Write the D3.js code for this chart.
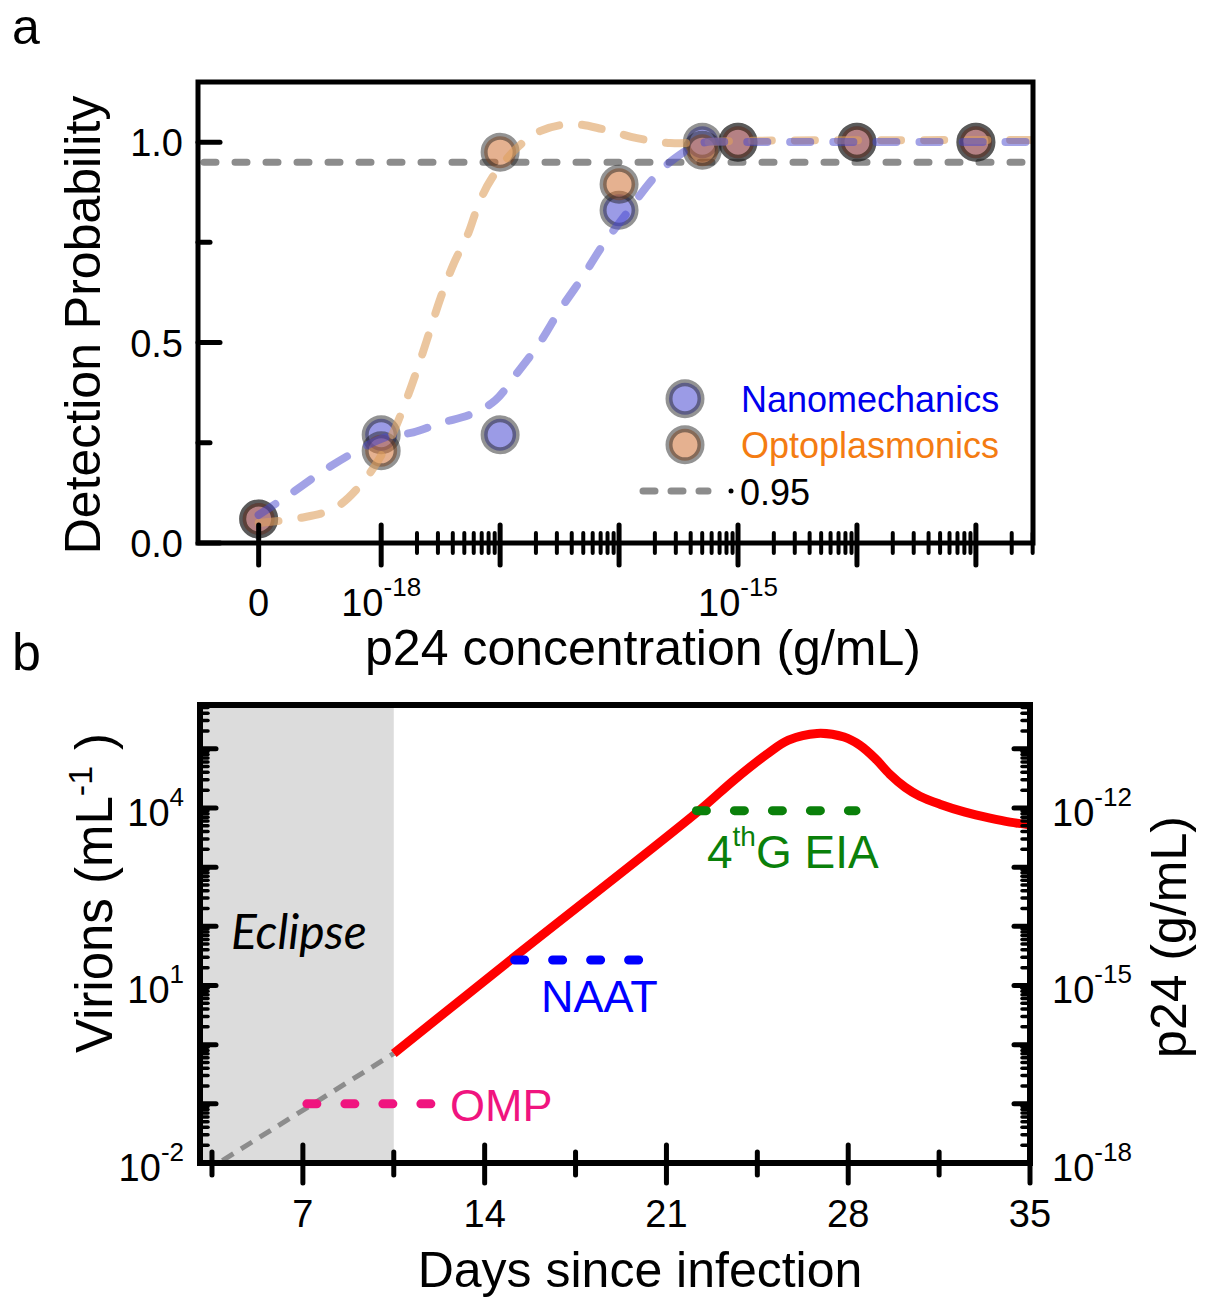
<!DOCTYPE html>
<html><head><meta charset="utf-8">
<script src="https://cdn.jsdelivr.net/npm/d3@7"></script>
<style>
body{margin:0;background:#fff}
svg{display:block}
text{font-family:"Liberation Sans",Arial,Helvetica,sans-serif}
</style>
</head><body>
<svg id="c" width="1210" height="1297"></svg>
<script>
// ---------------- Panel a data ----------------
// concentration as log10(g/mL); null = zero concentration (broken axis)
const concLog   = [null, -18, -17, -16, -15.3, -15, -14, -13];
const nanoProb  = [0.06, 0.27, 0.27, 0.83, 1.00, 1.00, 1.00, 1.00];
const optoProb  = [0.06, 0.23, 0.975, 0.895, 0.98, 1.00, 1.00, 1.00];
// fitted curves; first point is at the "0" position
const nanoFitLog  = [null, -18.78, -18.50, -18.24, -17.96, -17.73, -17.50, -17.23, -17.04, -16.86, -16.67, -16.50, -16.31, -16.13, -15.94, -15.71, -15.53, -15.30, -15.0, -12.52];
const nanoFitProb = [0.07, 0.119, 0.177, 0.224, 0.264, 0.276, 0.299, 0.323, 0.356, 0.423, 0.498, 0.580, 0.662, 0.746, 0.821, 0.910, 0.960, 0.998, 1.0, 1.0];
const optoFitLog  = [null, -18.69, -18.39, -18.14, -17.93, -17.80, -17.68, -17.59, -17.50, -17.39, -17.27, -17.18, -17.07, -16.86, -16.67, -16.40, -16.13, -15.85, -15.57, -15.0, -12.52];
const optoFitProb = [0.05, 0.062, 0.087, 0.157, 0.256, 0.348, 0.448, 0.530, 0.612, 0.697, 0.771, 0.846, 0.910, 0.985, 1.027, 1.045, 1.032, 1.010, 0.998, 1.003, 1.005];
const threshold = 0.95;
const seriesNames = ["Nanomechanics", "Optoplasmonics"];
const yTicksA = [0, 0.5, 1.0];
const yMinorA = [0.25, 0.75];
const xDecadesA = [-18, -17, -16, -15, -14, -13];
const xLabelA = [["0", null, null], ["10", "-18", -18], ["10", "-15", -15]];

// ---------------- Panel b data ----------------
const days    = [10.5, 15.0, 22.2, 23.6, 24.9, 25.7, 26.8, 27.84, 28.45, 29.03, 29.6, 30.19, 30.76, 31.53, 32.5, 33.46, 34.23, 35.08];
const virions = [0.71, 27, 8600, 29500, 83000, 140000, 182000, 158000, 115000, 69300, 37200, 22400, 15800, 11600, 8500, 6730, 5760, 5120];
const eclipseDays = [3, 10.5];
const extrapDays = [3.9, 10.5];
const extrapVirions = [0.011, 0.71];
const assayNames = ["OMP", "NAAT", "4thG EIA"];
const assayStart = [7, 15, 22];
const assayEnd   = [12, 20.1, 28.3];
const assayLevel = [0.1, 27, 9000];
const dayTicks = [7, 14, 21, 28, 35];
const dayMinor = [3.5, 10.5, 17.5, 24.5, 31.5];
const leftLabelExp = [-2, 1, 4];
const rightLabelExp = [-18, -15, -12];

// ---------------- drawing ----------------
const svg = d3.select("#c");

function supText(g, x, y, base, sup, size, supSize, anchor, raise, color) {
  const t = g.append("text").attr("x", x).attr("y", y)
    .attr("text-anchor", anchor).style("font-size", size + "px").attr("fill", color || "#000");
  t.append("tspan").text(base);
  if (sup) t.append("tspan").attr("dy", -raise).style("font-size", supSize + "px").text(sup);
  return t;
}

// ===== Panel a =====
const ZERO_LOG = -19.03;
const xA = d3.scaleLinear().domain([-19.54, -12.52]).range([198, 1033]);
const yA = d3.scaleLinear().domain([0, 1.15]).range([543, 82]);
const px = v => xA(v === null ? ZERO_LOG : v);

const gA = svg.append("g");
svg.append("text").attr("x", 12).attr("y", 44).style("font-size", "50px").text("a");

// threshold line
gA.append("line").attr("x1", xA(-19.54) + 6).attr("x2", xA(-12.52) - 4)
  .attr("y1", yA(threshold)).attr("y2", yA(threshold))
  .attr("stroke", "#8c8c8c").attr("stroke-width", 7).attr("stroke-linecap", "round")
  .attr("stroke-dasharray", "12 19");

// circles
const nanoFill = "rgba(55,55,205,0.5)", optoFill = "rgba(205,105,42,0.52)";
const ringCol = "rgba(25,25,25,0.47)";
gA.selectAll("circle.n").data(concLog).join("circle").attr("class", "n")
  .attr("cx", d => px(d)).attr("cy", (d, i) => yA(nanoProb[i])).attr("r", 16)
  .attr("fill", nanoFill).attr("stroke", ringCol).attr("stroke-width", 7);
gA.selectAll("circle.o").data(concLog).join("circle").attr("class", "o")
  .attr("cx", d => px(d)).attr("cy", (d, i) => yA(optoProb[i])).attr("r", 16)
  .attr("fill", optoFill).attr("stroke", ringCol).attr("stroke-width", 7);

// fitted curves
const lineA = d3.line().x(d => px(d[0])).y(d => yA(d[1])).curve(d3.curveCatmullRom.alpha(0.5));
gA.append("path").attr("d", lineA(optoFitLog.map((v, i) => [v, optoFitProb[i]])))
  .attr("fill", "none").attr("stroke", "rgba(222,160,95,0.6)").attr("stroke-width", 8)
  .attr("stroke-linecap", "round").attr("stroke-dasharray", "20 23");
gA.append("path").attr("d", lineA(nanoFitLog.map((v, i) => [v, nanoFitProb[i]])))
  .attr("fill", "none").attr("stroke", "rgba(70,70,205,0.5)").attr("stroke-width", 8)
  .attr("stroke-linecap", "round").attr("stroke-dasharray", "20 23");

// frame
gA.append("rect").attr("x", 198).attr("y", 82).attr("width", 835).attr("height", 461)
  .attr("fill", "none").attr("stroke", "#000").attr("stroke-width", 5);

// y ticks
yTicksA.forEach(v => gA.append("line").attr("x1", 198).attr("x2", 220).attr("y1", yA(v)).attr("y2", yA(v))
  .attr("stroke", "#000").attr("stroke-width", 5).attr("stroke-linecap", "round"));
yMinorA.forEach(v => gA.append("line").attr("x1", 198).attr("x2", 210).attr("y1", yA(v)).attr("y2", yA(v))
  .attr("stroke", "#000").attr("stroke-width", 5).attr("stroke-linecap", "round"));
yTicksA.forEach(v => gA.append("text").attr("x", 183).attr("y", yA(v) + 14).attr("text-anchor", "end")
  .style("font-size", "38px").text(d3.format(".1f")(v)));

// x ticks
const majA = [null].concat(xDecadesA);
majA.forEach(v => gA.append("line").attr("x1", px(v)).attr("x2", px(v)).attr("y1", yA(0) - 18).attr("y2", yA(0) + 22)
  .attr("stroke", "#000").attr("stroke-width", 5).attr("stroke-linecap", "round"));
xDecadesA.forEach(d => {
  for (let m = 2; m <= 9; m++) {
    const lv = d + Math.log10(m);
    if (lv > -12.52) continue;
    gA.append("line").attr("x1", xA(lv)).attr("x2", xA(lv)).attr("y1", yA(0) - 10).attr("y2", yA(0) + 10)
      .attr("stroke", "#000").attr("stroke-width", 4).attr("stroke-linecap", "round");
  }
});
xLabelA.forEach(l => supText(gA, px(l[2]), 616, l[0], l[1], 38, 26, "middle", 20));
gA.append("text").attr("x", 643).attr("y", 665).attr("text-anchor", "middle").style("font-size", "50px")
  .text("p24 concentration (g/mL)");
gA.append("text").attr("transform", "translate(100,325) rotate(-90)").attr("text-anchor", "middle")
  .style("font-size", "50px").text("Detection Probability");

// legend
const legY = [yA(0.36), yA(0.245)];
[nanoFill, optoFill].forEach((f, i) => gA.append("circle").attr("cx", 685).attr("cy", legY[i]).attr("r", 16)
  .attr("fill", f).attr("stroke", ringCol).attr("stroke-width", 7));
const legCol = ["#0000ee", "#f47c12"];
seriesNames.forEach((s, i) => gA.append("text").attr("x", 741).attr("y", legY[i] + 13).style("font-size", "36px")
  .attr("fill", legCol[i]).text(s));
gA.append("line").attr("x1", 643).attr("x2", 708).attr("y1", yA(0.13)).attr("y2", yA(0.13))
  .attr("stroke", "#8c8c8c").attr("stroke-width", 7).attr("stroke-linecap", "round").attr("stroke-dasharray", "12 16");
gA.append("circle").attr("cx", 731).attr("cy", yA(0.13)).attr("r", 2.5).attr("fill", "#000");
gA.append("text").attr("x", 740).attr("y", yA(0.13) + 14).style("font-size", "36px").text(d3.format(".2f")(threshold));

// ===== Panel b =====
const L = 200, R = 1030, T = 705, B = 1163;
const xB = d3.scaleLinear().domain([3, 35]).range([199, 1030]);
const yB = d3.scaleLog().domain([1e-2, Math.pow(10, 5.74)]).range([B, T]);
const yB2 = d3.scaleLog().domain([1e-18, Math.pow(10, -10.26)]).range([B, T]);
const gB = svg.append("g");
svg.append("text").attr("x", 12).attr("y", 670).style("font-size", "52px").text("b");

svg.append("clipPath").attr("id", "clipB").append("rect").attr("x", L).attr("y", T).attr("width", R - L).attr("height", B - T);

gB.append("rect").attr("x", xB(eclipseDays[0])).attr("y", T).attr("width", xB(eclipseDays[1]) - xB(eclipseDays[0]))
  .attr("height", B - T).attr("fill", "#dcdcdc");
gB.append("text").attr("x", 231).attr("y", 949).style("font-family", "Lato, 'Open Sans', sans-serif")
  .style("font-style", "italic").style("font-size", "48px").text("Eclipse");

const gClip = gB.append("g").attr("clip-path", "url(#clipB)");
const lineB = d3.line().x(d => xB(d[0])).y(d => yB(d[1])).curve(d3.curveCatmullRom.alpha(0.5));
gClip.append("path").attr("d", lineB(extrapDays.map((d, i) => [d, extrapVirions[i]])))
  .attr("fill", "none").attr("stroke", "#8c8c8c").attr("stroke-width", 5).attr("stroke-dasharray", "13 9");
gClip.append("path").attr("d", lineB(days.map((d, i) => [d, virions[i]])))
  .attr("fill", "none").attr("stroke", "#ff0000").attr("stroke-width", 9);

const assayCol = ["#f0147f", "#0000ff", "#0a800a"];
assayNames.forEach((n, i) => {
  gB.append("line").attr("x1", xB(assayStart[i]) + 4).attr("x2", xB(assayEnd[i]))
    .attr("y1", yB(assayLevel[i])).attr("y2", yB(assayLevel[i]))
    .attr("stroke", assayCol[i]).attr("stroke-width", 9).attr("stroke-linecap", "round")
    .attr("stroke-dasharray", "10 28");
});
gB.append("text").attr("x", 450).attr("y", 1121).style("font-size", "45px").attr("fill", assayCol[0]).text(assayNames[0]);
gB.append("text").attr("x", 541).attr("y", 1012).style("font-size", "45px").attr("fill", assayCol[1]).text(assayNames[1]);
const eia = gB.append("text").attr("x", 707).attr("y", 868).style("font-size", "46px").attr("fill", assayCol[2]);
eia.append("tspan").text("4");
eia.append("tspan").attr("dy", -22).style("font-size", "28px").text("th");
eia.append("tspan").attr("dy", 22).text("G EIA");

// frame
gB.append("rect").attr("x", L).attr("y", T).attr("width", R - L).attr("height", B - T)
  .attr("fill", "none").attr("stroke", "#000").attr("stroke-width", 6);

// y ticks (left & right)
for (let e = -2; e <= 5; e++) {
  for (let m = 1; m <= 9; m++) {
    const v = m * Math.pow(10, e);
    if (v > yB.domain()[1]) continue;
    const len = m === 1 ? 16 : 8, w = m === 1 ? 5 : 3.5;
    const y = yB(v);
    gB.append("line").attr("x1", L).attr("x2", L + len).attr("y1", y).attr("y2", y)
      .attr("stroke", "#000").attr("stroke-width", w).attr("stroke-linecap", "round");
    gB.append("line").attr("x1", R).attr("x2", R - len).attr("y1", y).attr("y2", y)
      .attr("stroke", "#000").attr("stroke-width", w).attr("stroke-linecap", "round");
  }
}
leftLabelExp.forEach(e => supText(gB, 184, yB(Math.pow(10, e)) + 18, "10", String(e), 38, 26, "end", 20));
rightLabelExp.forEach(e => supText(gB, 1052, yB2(Math.pow(10, e)) + 18, "10", String(e), 38, 26, "start", 20));

// x ticks
dayTicks.forEach(d => gB.append("line").attr("x1", xB(d)).attr("x2", xB(d)).attr("y1", B - 18).attr("y2", B + 20)
  .attr("stroke", "#000").attr("stroke-width", 5).attr("stroke-linecap", "round"));
dayMinor.forEach(d => gB.append("line").attr("x1", xB(d)).attr("x2", xB(d)).attr("y1", B - 11).attr("y2", B + 12)
  .attr("stroke", "#000").attr("stroke-width", 5).attr("stroke-linecap", "round"));
dayTicks.forEach(d => gB.append("text").attr("x", xB(d)).attr("y", 1227).attr("text-anchor", "middle")
  .style("font-size", "38px").text(d));
gB.append("text").attr("x", 640).attr("y", 1287).attr("text-anchor", "middle").style("font-size", "50px")
  .text("Days since infection");

const vt = gB.append("text").attr("transform", "translate(112,893) rotate(-90)").attr("text-anchor", "middle")
  .style("font-size", "51px");
vt.append("tspan").text("Virions (mL");
vt.append("tspan").attr("dy", -20).style("font-size", "34px").text("-1");
vt.append("tspan").attr("dx", 16).attr("dy", 20).text(")");
gB.append("text").attr("transform", "translate(1186,937) rotate(-90)").attr("text-anchor", "middle")
  .style("font-size", "50px").text("p24 (g/mL)");
</script>
</body></html>
